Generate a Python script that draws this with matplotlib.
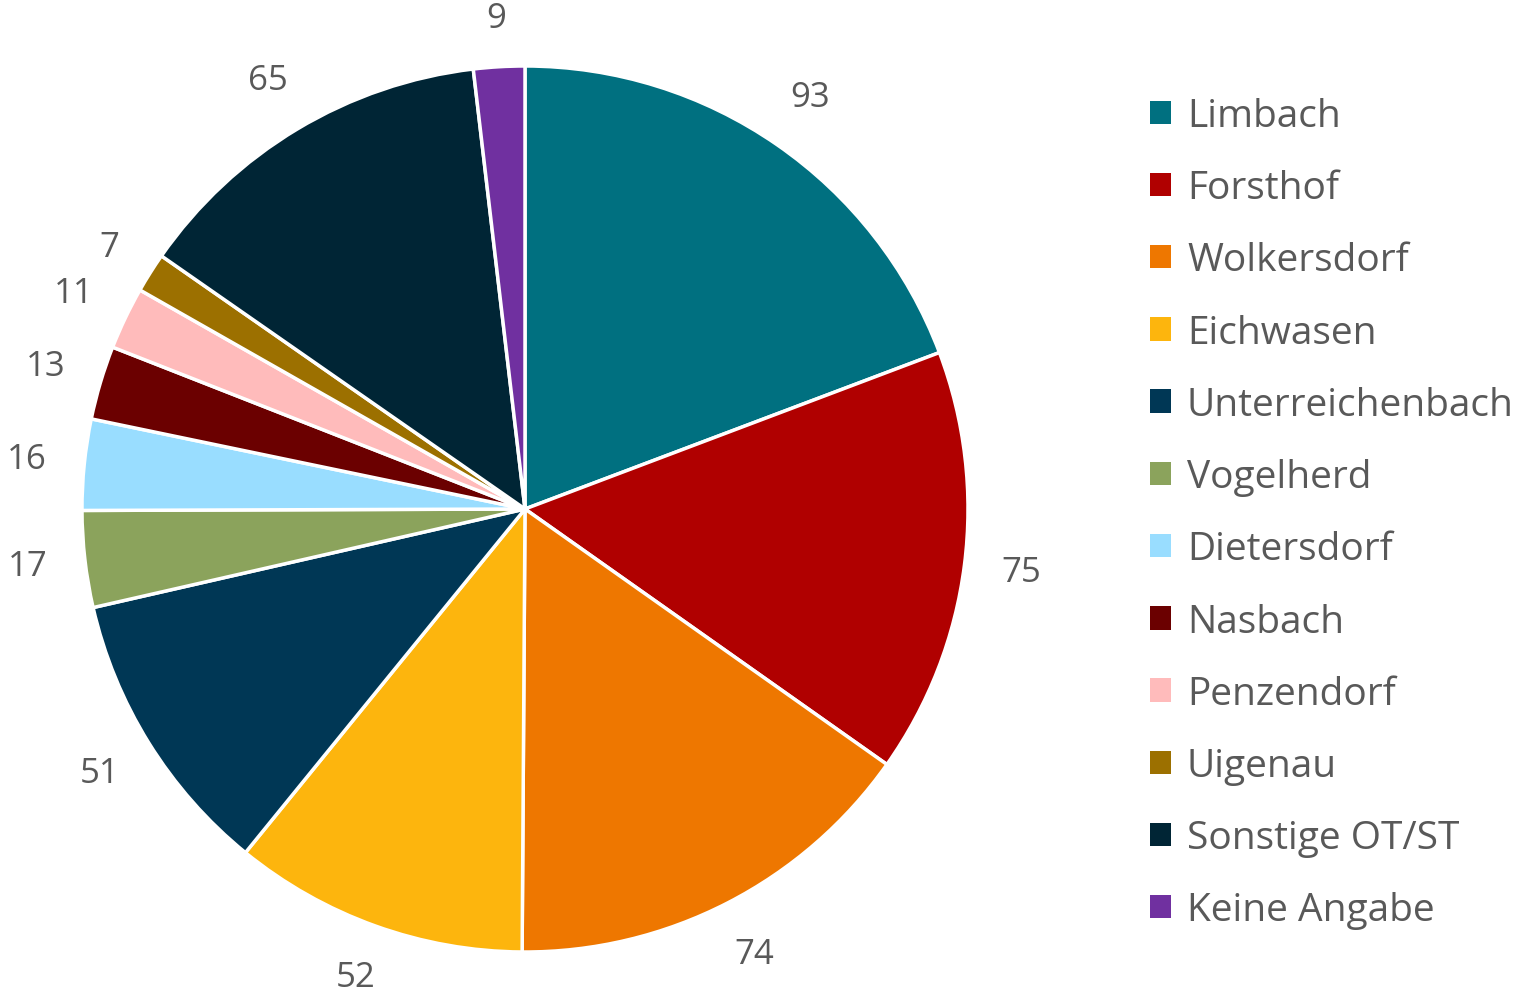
import matplotlib
matplotlib.use("Agg")
import matplotlib.pyplot as plt
import numpy as np
from matplotlib.patches import Patch

# data
orte = ['Limbach', 'Forsthof', 'Wolkersdorf', 'Eichwasen', 'Unterreichenbach',
        'Vogelherd', 'Dietersdorf', 'Nasbach', 'Penzendorf', 'Uigenau',
        'Sonstige OT/ST', 'Keine Angabe']
anzahl = [93, 75, 74, 52, 51, 17, 16, 13, 11, 7, 65, 9]
farben = ['#007080', '#B00000', '#EE7700', '#FDB50D', '#003755', '#8BA35C',
          '#99DDFF', '#6B0000', '#FFBBBB', '#9C7000', '#002535', '#7030A0']

plt.rcParams['font.family'] = ['Open Sans', 'DejaVu Sans']
textfarbe = '#595959'

fig = plt.figure(figsize=(15.32, 9.95), dpi=100)
ax = fig.add_axes([82/1532, 42/995, 886/1532, 886/995])

wedges, texts = ax.pie(anzahl, colors=farben, startangle=90, counterclock=False,
                       labels=[str(a) for a in anzahl], labeldistance=1.13,
                       wedgeprops=dict(edgecolor='white', linewidth=2.5),
                       textprops=dict(color=textfarbe, fontsize=25))
# one-digit labels sit a little closer to the pie (like Excel best fit)
for w, t in zip(wedges, texts):
    t.set_ha('center')
    t.set_va('center')
    dist = 1.11 if len(t.get_text()) == 1 else 1.13
    ang = np.deg2rad((w.theta1 + w.theta2) / 2)
    t.set_position((dist * np.cos(ang), dist * np.sin(ang)))
ax.set_xlim(-1, 1)
ax.set_ylim(-1, 1)
ax.set_aspect('equal')

# keep labels inside the figure
fig.canvas.draw()
H = fig.bbox.height
for t in texts:
    bb = t.get_window_extent()
    shift = 0
    if bb.y0 < 0:
        shift = -bb.y0
    elif bb.y1 > H:
        shift = H - bb.y1
    if shift:
        x, y = t.get_position()
        px, py = ax.transData.transform((x, y))
        t.set_position(ax.transData.inverted().transform((px, py + shift)))

#legend
handles = [Patch(facecolor=c, edgecolor='none') for c in farben]
leg = fig.legend(handles, orte, loc='upper left', bbox_to_anchor=(1150/1532, 1 - 98/995),
                 frameon=False, fontsize=28, labelcolor=textfarbe,
                 handlelength=0.55, handleheight=0.55, handletextpad=0.4,
                 labelspacing=0.88, borderaxespad=0, borderpad=0)

fig.savefig('out.png', dpi=100)
